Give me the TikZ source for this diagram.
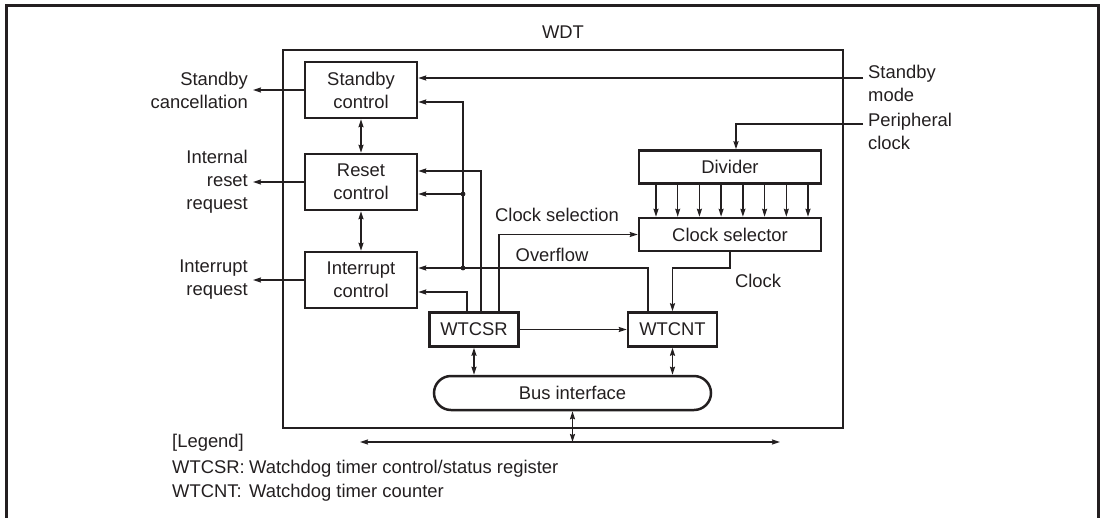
\documentclass[tikz,border=0pt]{standalone}
\usepackage{fontspec}
\setmainfont{Liberation Sans}
\usetikzlibrary{arrows.meta,calc}
\definecolor{ink}{RGB}{35,31,32}
\begin{document}
\begin{tikzpicture}[x=1pt,y=-1pt,
  font=\fontsize{18.4}{23}\selectfont,
  every node/.style={text=ink},
  blk/.style={draw=ink, line width=2.5pt, inner sep=0pt, align=center},
  lbl/.style={inner sep=0pt, align=right, anchor=east},
  arr/.style={draw=ink, line width=1.4pt, -{Stealth[length=8pt,width=5pt,inset=1pt]}},
  darr/.style={draw=ink, line width=1.4pt, {Stealth[length=8pt,width=5pt,inset=1pt]}-{Stealth[length=8pt,width=5pt,inset=1pt]}},
  dot/.style={fill=ink}]
\useasboundingbox (0,0) rectangle (1103,517);
% outer frame
\draw[ink, line width=3pt] (6,520) -- (6,5) -- (1098,5) -- (1098,520);
% WDT block
\node[draw=ink, line width=1.4pt, minimum width=560pt, minimum height=378pt, inner sep=0pt] (wdt) at (563,239) {};
\node (wdtl) at (563,32) {WDT};
% boxes
\node[blk, minimum width=112pt, minimum height=56pt] (sb) at (361,90) {Standby\\control};
\node[blk, minimum width=112pt, minimum height=56pt] (rc) at (361,182) {Reset\\control};
\node[blk, minimum width=112pt, minimum height=56pt] (ic) at (361,280) {Interrupt\\control};
\node[blk, minimum width=89pt, minimum height=34pt] (csr) at (474,329.5) {WTCSR};
\node[blk, minimum width=89pt, minimum height=34pt] (cnt) at (672.5,329.5) {WTCNT};
\node[blk, minimum width=182pt, minimum height=33pt] (div) at (730,167) {Divider};
\node[blk, minimum width=182pt, minimum height=33pt] (sel) at (730,234.5) {Clock selector};
\node[blk, minimum width=277pt, minimum height=34pt, rounded corners=17pt] (bus) at (572.5,393) {Bus interface};
% left labels
\node[lbl] (lsc) at (248,90) {Standby\\cancellation};
\node[lbl] (lir) at (248,182) {Internal\\reset\\request};
\node[lbl] (lint) at (248,280) {Interrupt\\request};
\draw[arr] (sb.west) -- ([xshift=5pt]lsc.east);
\draw[arr] (rc.west) -- ([xshift=5pt]lir.east |- rc.west);
\draw[arr] (ic.west) -- ([xshift=5pt]lint.east |- ic.west);
% vertical double arrows
\draw[darr] (sb.south) -- (rc.north);
\draw[darr] (rc.south) -- (ic.north);
% right labels
\node[inner sep=0pt, align=left, anchor=west] (lsm) at (868,83) {Standby\\mode};
\node[inner sep=0pt, align=left, anchor=west] (lpc) at (868,131) {Peripheral\\clock};
\coordinate (sm) at (863,78);
\coordinate (pc) at (863,124);
\coordinate (pcx) at (736,0);
\draw[arr] (sm) -- (sm -| sb.east);
\draw[arr] (pc) -| (div.north -| pcx);
% divider outputs
\foreach \xx in {656,677.7,699.4,721.1,742.9,764.6,786.3,808}{
  \coordinate (dx) at (\xx,0);
  \draw[arr] (div.south -| dx) -- (sel.north -| dx);
}
% overflow
\coordinate (ovx) at (648,0);
\coordinate (ovy) at (0,268);
\coordinate (d1) at (463,268);
\coordinate (d2) at (463,194);
\coordinate (sby) at (0,102);
\draw[arr] (cnt.north -| ovx) |- (ic.east |- ovy);
\draw[arr] (d1) |- (sb.east |- sby);
\draw[arr] (d2) -- (rc.east |- d2);
\fill[dot] (d1) circle (2.4pt);
\fill[dot] (d2) circle (2.4pt);
% WTCSR outputs
\coordinate (rx) at (481,0);
\coordinate (ry) at (0,171);
\coordinate (ix) at (467,0);
\coordinate (iy) at (0,292);
\coordinate (csx) at (499,0);
\draw[arr] (csr.north -| rx) |- (rc.east |- ry);
\draw[arr] (csr.north -| ix) |- (ic.east |- iy);
\draw[arr] (csr.north -| csx) |- (sel.west);
% clock
\coordinate (cky) at (0,268);
\draw[arr] (sel.south) -- (sel.south |- cky) -| (cnt.north);
\draw[arr] (csr.east) -- (cnt.west);
% labels on wires
\node (tcs) at (557,215) {Clock selection};
\node (tov) at (552,255) {Overflow};
\node (tck) at (758,281) {Clock};
% bus
\draw[darr] (csr.south) -- (csr.south |- bus.north);
\draw[darr] (cnt.south) -- (cnt.south |- bus.north);
\coordinate (bl) at (360,442);
\coordinate (br) at (780,442);
\draw[darr] (bl) -- (br);
\draw[darr] (bus.south) -- (bus.south |- bl);
% legend
\node[inner sep=0pt, anchor=base west] (lg1) at (172,447.5) {[Legend]};
\node[inner sep=0pt, anchor=base west] (lg2) at (172,473) {\makebox[77pt][l]{WTCSR:}Watchdog timer control/status register};
\node[inner sep=0pt, anchor=base west] (lg3) at (172,497.5) {\makebox[77pt][l]{WTCNT:}Watchdog timer counter};
\end{tikzpicture}
\end{document}
